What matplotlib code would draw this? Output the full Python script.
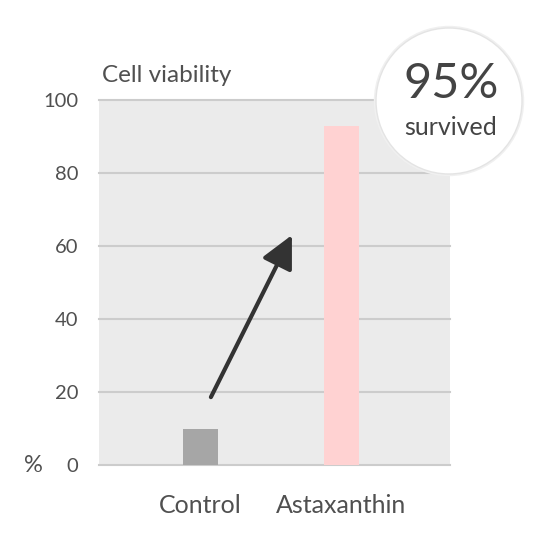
import matplotlib
matplotlib.use("Agg")
import matplotlib.pyplot as plt
from matplotlib.patches import Circle

plt.rcParams['font.family'] = ['Lato', 'DejaVu Sans']

# data
categories = ["Control", "Astaxanthin"]
viability = [10, 93]
bar_colors = ["#a6a6a6", "#ffd2d2"]
y_ticks = [0, 20, 40, 60, 80, 100]
badge_value = "95%"
badge_label = "survived"

text_color = "#505050"

fig = plt.figure(figsize=(5.5, 5.5), dpi=100)
ax = fig.add_axes([0.18, 0.1545, 0.638, 0.6636])
ax.set_facecolor("#ebebeb")

x = range(len(categories))
ax.bar(x, viability, width=0.25, color=bar_colors, zorder=3)

for t in y_ticks:
    ax.axhline(t, color="#cccccc", lw=1.5, zorder=2, clip_on=False)

ax.set_xlim(-0.72, 1.77)
ax.set_ylim(0, 100)
ax.set_yticks(y_ticks)
ax.set_xticks(list(x))
ax.set_xticklabels(categories)
ax.tick_params(axis="y", length=0, pad=15, labelsize=14.5, labelcolor=text_color)
ax.tick_params(axis="x", length=0, pad=21, labelsize=18, labelcolor=text_color)
for s in ax.spines.values():
    s.set_visible(False)

ax.text(0.008, 1.05, "Cell viability", transform=ax.transAxes,
        fontsize=17.5, color=text_color, va="baseline", ha="left")
fig.text(33.5 / 550, 1 - 466 / 550, "%", fontsize=17, color=text_color,
         ha="center", va="center")

# arrow from control up toward astaxanthin
ax.annotate("", xy=(0.649, 63), xytext=(0.074, 18.6),
            arrowprops=dict(arrowstyle="-|>,head_length=0.9,head_width=0.45",
                            color="#333333", lw=3, mutation_scale=22,
                            shrinkA=0, shrinkB=0),
            zorder=4)

# badge
cx, cy, r = 449 / 550, 1 - 101 / 550, 73 / 550
fig.add_artist(Circle((cx, cy), r + 0.004, transform=fig.transFigure,
                      facecolor="#f0f0f0", edgecolor="none", zorder=9))
fig.add_artist(Circle((cx, cy), r, transform=fig.transFigure,
                      facecolor="white", edgecolor="#e4e4e4", lw=1, zorder=10))
fig.text(451 / 550, 1 - 84 / 550, badge_value, fontsize=35, color="#444444",
         ha="center", va="center", zorder=11)
fig.text(451 / 550, 1 - 135 / 550, badge_label, fontsize=18, color="#444444",
         ha="center", va="baseline", zorder=11)

fig.savefig("out.png", dpi=100, facecolor="white")
